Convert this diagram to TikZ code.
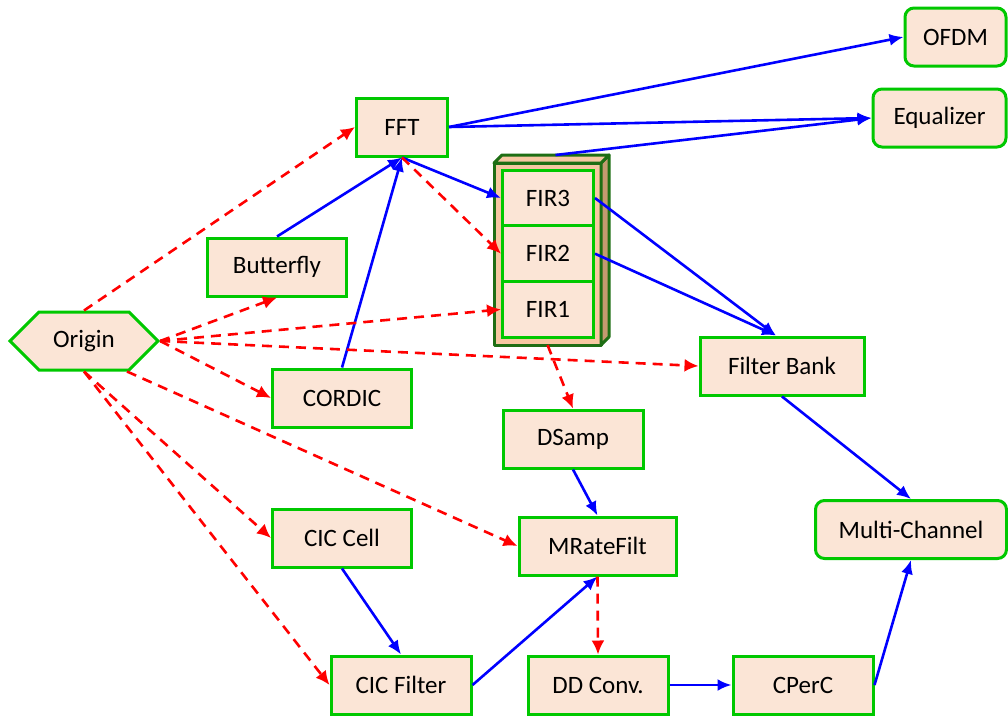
\documentclass[tikz,border=0pt]{standalone}
\usepackage{fontspec}
\setmainfont{Carlito}
\usetikzlibrary{arrows.meta,calc,shapes.symbols}
\definecolor{DspFill}{HTML}{FBE5D6}
\definecolor{DspEdge}{HTML}{00C800}
\definecolor{DspFlow}{HTML}{0000FF}
\definecolor{DspLink}{HTML}{FF0000}
\definecolor{DspStackEdge}{HTML}{1E6E14}
\definecolor{DspStackFront}{HTML}{F6C8A2}
\definecolor{DspStackSide}{HTML}{C49A70}
\tikzset{
  dsp text/.style={font=\fontsize{25}{30}\selectfont, text=black},
  dsp block/.style={dsp text, draw=DspEdge, fill=DspFill, line width=3pt, minimum height=58pt, inner sep=0pt},
  dsp rounded/.style={dsp block, rounded corners=9pt},
  dsp origin/.style={dsp block, signal, signal to=east and west, minimum width=148pt},
  dsp fir/.style={dsp block, minimum width=91pt, minimum height=55.7pt},
  dsp stack/.style={draw=DspStackEdge, fill=DspStackFront, line width=3pt, line join=round, outer sep=0pt, inner sep=0pt},
  dsp flow/.style={draw=DspFlow, line width=2.6pt, -{Latex[length=14pt,width=12pt]}},
  dsp link/.style={draw=DspLink, line width=2.6pt, dash pattern=on 10pt off 7pt, -{Latex[length=14pt,width=13pt]}},
}
\begin{document}
\begin{tikzpicture}[x=1pt,y=-1pt]
  \useasboundingbox (0,0) rectangle (1008,715);

  % FIR stack drawn as a box with depth
  \node[dsp stack, minimum width=107pt, minimum height=182pt] (firstack) at (547.5,254) {};
  \filldraw[dsp stack, fill=DspStackSide] (firstack.north east) -- ++(8,-8)
    -- ($(firstack.south east)+(8,-8)$) -- (firstack.south east) -- cycle;
  \filldraw[dsp stack] (firstack.north west) -- ++(8,-8)
    -- ($(firstack.north east)+(8,-8)$) -- (firstack.north east) -- cycle;
  \coordinate (stacktop) at ($(firstack.north)+(8,-8)$);
  \node[dsp fir] (fir3) at (548,198) {FIR3};
  \node[dsp fir] (fir2) at (548,253.7) {FIR2};
  \node[dsp fir] (fir1) at (548,309.4) {FIR1};

  \node[dsp origin] (origin) at (84,341) {Origin};
  \node[dsp block, minimum width=91pt] (fft) at (402,127) {FFT};
  \node[dsp block, minimum width=139pt] (butterfly) at (277,267) {Butterfly};
  \node[dsp block, minimum width=139pt] (cordic) at (342,398) {CORDIC};
  \node[dsp rounded, minimum width=101pt] (ofdm) at (955.5,37) {OFDM};
  \node[dsp rounded, minimum width=133pt] (equalizer) at (939.5,118) {Equalizer};
  \node[dsp block, minimum width=164pt] (filterbank) at (782,366) {Filter Bank};
  \node[dsp block, minimum width=140pt] (dsamp) at (573,439) {DSamp};
  \node[dsp block, minimum width=157pt] (mratefilt) at (597.5,546) {MRateFilt};
  \node[dsp rounded, minimum width=191pt] (multichannel) at (911,529.5) {Multi-Channel};
  \node[dsp block, minimum width=139pt] (ciccell) at (342,538) {CIC Cell};
  \node[dsp block, minimum width=140pt] (cicfilter) at (401,685) {CIC Filter};
  \node[dsp block, minimum width=140pt] (ddconv) at (598,685) {DD Conv.};
  \node[dsp block, minimum width=140pt] (cperc) at (803,685) {CPerC};

  % data flow
  \draw[dsp flow] (fft.east) -- (ofdm.west);
  \draw[dsp flow] (fft.east) -- (equalizer.west);
  \draw[dsp flow] (stacktop) -- (equalizer.west);
  \draw[dsp flow] (butterfly.north) -- (fft.south);
  \draw[dsp flow] (cordic.north) -- (fft.south);
  \draw[dsp flow] (fft.south) -- (fir3.west);
  \draw[dsp flow] (fir3.east) -- ($(filterbank.north)+(-6,0)$);
  \draw[dsp flow] (fir2.east) -- ($(filterbank.north)+(-6,0)$);
  \draw[dsp flow] (filterbank.south) -- (multichannel.north);
  \draw[dsp flow] (dsamp.south) -- (mratefilt.north);
  \draw[dsp flow] (ciccell.south) -- (cicfilter.north);
  \draw[dsp flow] (cicfilter.east) -- (mratefilt.south);
  \draw[dsp flow] (ddconv.east) -- (cperc.west);
  \draw[dsp flow] (cperc.east) -- (multichannel.south);

  % dependencies
  \draw[dsp link] (origin.north) -- (fft.west);
  \draw[dsp link] (origin.east) -- (butterfly.south);
  \draw[dsp link] (origin.east) -- (fir1.west);
  \draw[dsp link] (origin.east) -- (filterbank.west);
  \draw[dsp link] (origin.east) -- (cordic.west);
  \draw[dsp link] (origin.south) -- (ciccell.west);
  \draw[dsp link] (origin.south) -- (cicfilter.west);
  \draw[dsp link] ($(origin.south)+(43,0)$) -- (mratefilt.west);
  \draw[dsp link] (fft.south) -- (fir2.west);
  \draw[dsp link] (firstack.south) -- (dsamp.north);
  \draw[dsp link] (mratefilt.south) -- (ddconv.north);
\end{tikzpicture}
\end{document}
